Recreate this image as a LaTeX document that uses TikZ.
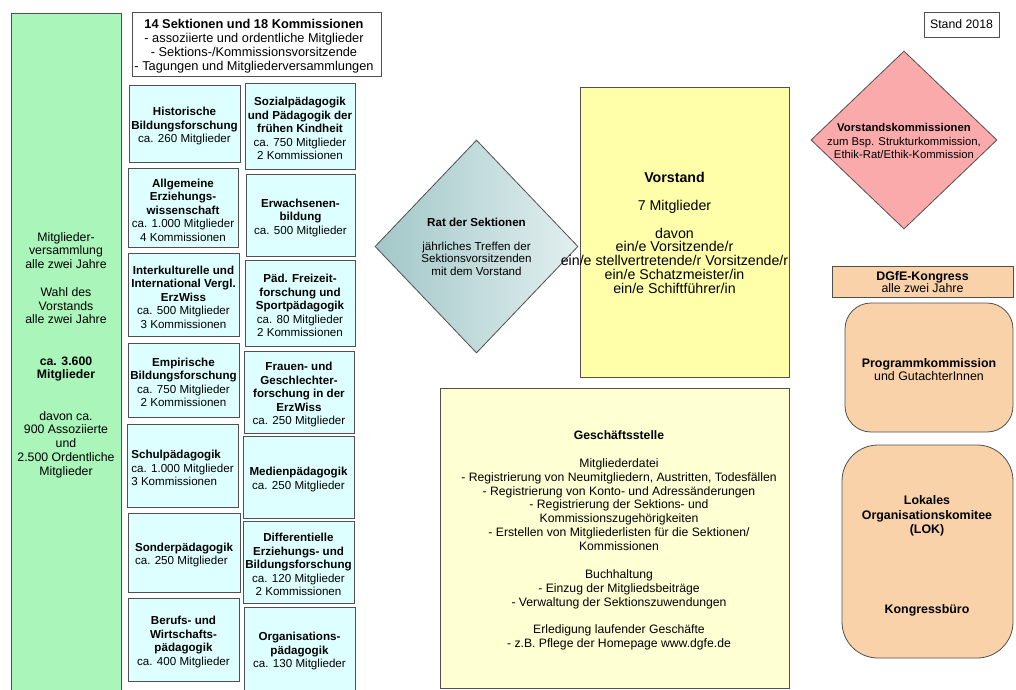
\documentclass[tikz,border=0pt]{standalone}
\usepackage{fontspec}
\setmainfont{Liberation Sans}
\usetikzlibrary{shapes.geometric}
\definecolor{grn}{HTML}{AAF5B9}
\definecolor{cyn}{HTML}{DDFFFF}
\definecolor{ylw}{HTML}{FFFFAA}
\definecolor{pyl}{HTML}{FFFFD4}
\definecolor{pnk}{HTML}{FAAAAA}
\definecolor{org}{HTML}{FAD2AA}
\definecolor{tealL}{HTML}{A2C7C8}
\definecolor{tealR}{HTML}{E2EFEF}
\definecolor{bdr}{HTML}{505050}
\newcommand\fs[2]{\fontsize{#1}{#2}\selectfont}
\newcommand\Tup{\rule{0pt}{13.5pt}}
\begin{document}
\begin{tikzpicture}[x=1pt,y=-1pt,
  box/.style={draw=bdr, line width=0.8pt, inner sep=0pt, align=center},
  sec/.style={box, fill=cyn, font=\fs{11.6}{13.5}},
  txt/.style={inner sep=0pt, align=center}]
\useasboundingbox (0,0) rectangle (1016,689);
\clip (0,0) rectangle (1016,689);
\fill[white] (0,0) rectangle (1016,689);

% Mitgliederversammlung
\node[box, fill=grn, minimum width=110pt, minimum height=684pt, font=\fs{12.3}{13.76}] (mv) at (66,355)
 {Mitglieder-\\versammlung\\alle zwei Jahre\\~\\Wahl des\\Vorstands\\alle zwei Jahre\\~\\~\\\textbf{ca. 3.600}\\\textbf{Mitglieder}\\~\\~\\davon ca.\\900 Assoziierte\\und\\2.500 Ordentliche\\Mitglieder};

% header
\node[box, fill=white, minimum width=249pt, minimum height=64pt] (hdr) at (256.5,44) {};
\node[txt, font=\fs{12.8}{13.8}] (hdrtext) at (254,46) {\textbf{14 Sektionen und 18 Kommissionen}\\- assoziierte und ordentliche Mitglieder\\- Sektions-/Kommissionsvorsitzende\\- Tagungen und Mitgliederversammlungen};

% sections, left column
\node[sec, minimum width=111pt, minimum height=77pt] (hist) at (184.5,123.5)
 {\Tup\textbf{Historische}\\\textbf{Bildungsforschung}\\ca. 260 Mitglieder};
\node[sec, minimum width=110pt, minimum height=79pt] (allg) at (183,207.5)
 {\Tup\textbf{Allgemeine}\\\textbf{Erziehungs-}\\\textbf{wissenschaft}\\ca. 1.000 Mitglieder\\4 Kommissionen};
\node[sec, minimum width=111pt, minimum height=83pt] (inter) at (183.5,294.5)
 {\Tup\textbf{Interkulturelle und}\\\textbf{International Vergl.}\\\textbf{ErzWiss}\\ca. 500 Mitglieder\\3 Kommissionen};
\node[sec, minimum width=111pt, minimum height=74pt] (emp) at (183.5,380)
 {\Tup\textbf{Empirische}\\\textbf{Bildungsforschung}\\ca. 750 Mitglieder\\2 Kommissionen};
\node[sec, align=left, minimum width=111pt, minimum height=83pt] (schul) at (182.5,465.5)
 {\Tup\textbf{Schulpädagogik}\\ca. 1.000 Mitglieder\\3 Kommissionen};
\node[sec, align=left, minimum width=112pt, minimum height=79pt] (sonder) at (184,552.5)
 {\Tup\textbf{Sonderpädagogik}\\ca. 250 Mitglieder};
\node[sec, minimum width=111pt, minimum height=83pt] (beruf) at (183.5,639.5)
 {\Tup\textbf{Berufs- und}\\\textbf{Wirtschafts-}\\\textbf{pädagogik}\\ca. 400 Mitglieder};

% sections, right column
\node[sec, minimum width=110pt, minimum height=86pt] (sozial) at (300,126)
 {\Tup\textbf{Sozialpädagogik}\\\textbf{und Pädagogik der}\\\textbf{frühen Kindheit}\\ca. 750 Mitglieder\\2 Kommissionen};
\node[sec, minimum width=109pt, minimum height=82pt] (erw) at (300.5,215)
 {\Tup\textbf{Erwachsenen-}\\\textbf{bildung}\\ca. 500 Mitglieder};
\node[sec, minimum width=110pt, minimum height=86pt] (frei) at (300,303)
 {\Tup\textbf{Päd. Freizeit-}\\\textbf{forschung und}\\\textbf{Sportpädagogik}\\ca. 80 Mitglieder\\2 Kommissionen};
\node[sec, minimum width=110pt, minimum height=82pt] (frauen) at (299,392)
 {\Tup\textbf{Frauen- und}\\\textbf{Geschlechter-}\\\textbf{forschung in der}\\\textbf{ErzWiss}\\ca. 250 Mitglieder};
\node[sec, minimum width=111pt, minimum height=82pt] (medien) at (298.5,477)
 {\Tup\textbf{Medienpädagogik}\\ca. 250 Mitglieder};
\node[sec, minimum width=111pt, minimum height=82pt] (diff) at (298.5,562)
 {\Tup\textbf{Differentielle}\\\textbf{Erziehungs- und}\\\textbf{Bildungsforschung}\\ca. 120 Mitglieder\\2 Kommissionen};
\node[sec, minimum width=111pt, minimum height=83pt] (orga) at (299.5,648.5)
 {\Tup\textbf{Organisations-}\\\textbf{pädagogik}\\ca. 130 Mitglieder};

% Rat der Sektionen
\node[diamond, draw=bdr, line width=0.8pt, left color=tealL, right color=tealR, minimum width=203pt, minimum height=213pt, inner sep=0pt] (rat) at (476.5,246.5) {};
\node[txt, font=\fs{11.6}{12.3}] (rattext) at (476.5,246.5) {\textbf{Rat der Sektionen}\\~\\jährliches Treffen der\\Sektionsvorsitzenden\\mit dem Vorstand};

% Vorstand
\node[box, fill=ylw, minimum width=209pt, minimum height=290pt] (vor) at (684.5,232) {};
\node[txt, font=\fs{14.2}{13.8}] (vortext) at (674.5,233) {\textbf{Vorstand}\\~\\7 Mitglieder\\~\\davon\\ein/e Vorsitzende/r\\ein/e stellvertretende/r Vorsitzende/r\\ein/e Schatzmeister/in\\ein/e Schiftführer/in};

% Geschaeftsstelle
\node[box, fill=pyl, minimum width=349pt, minimum height=300pt] (gs) at (614.5,538) {};
\node[txt, font=\fs{12.2}{13.87}] (gstext) at (619,540.5) {\textbf{Geschäftsstelle}\\~\\Mitgliederdatei\\- Registrierung von Neumitgliedern, Austritten, Todesfällen\\- Registrierung von Konto- und Adressänderungen\\- Registrierung der Sektions- und\\Kommissionszugehörigkeiten\\- Erstellen von Mitgliederlisten für die Sektionen/\\Kommissionen\\~\\Buchhaltung\\- Einzug der Mitgliedsbeiträge\\- Verwaltung der Sektionszuwendungen\\~\\Erledigung laufender Geschäfte\\- z.B. Pflege der Homepage www.dgfe.de};

% Stand
\node[box, fill=white, minimum width=75pt, minimum height=25pt, font=\fs{12.3}{14}] (stand) at (961.5,24.5) {Stand 2018};

% Vorstandskommissionen
\node[diamond, draw=bdr, line width=0.8pt, fill=pnk, minimum width=186pt, minimum height=178pt, inner sep=0pt] (vk) at (904,140) {};
\node[txt, font=\fs{11.3}{13.1}] (vktext) at (904,141) {\textbf{Vorstandskommissionen}\\zum Bsp. Strukturkommission,\\Ethik-Rat/Ethik-Kommission};

% Kongress
\node[box, fill=org, minimum width=181pt, minimum height=31pt] (dk) at (922.5,281.5) {};
\node[txt, font=\fs{12.4}{12}] (dktext) at (922.5,282.5) {\textbf{DGfE-Kongress}\\alle zwei Jahre};
\node[box, fill=org, rounded corners=26pt, minimum width=168pt, minimum height=129pt] (pk) at (929,367.5) {};
\node[txt, font=\fs{12.4}{13.4}] (pktext) at (929,369.5) {\textbf{Programmkommission}\\und GutachterInnen};
\node[box, fill=org, rounded corners=36pt, minimum width=171pt, minimum height=213pt] (lok) at (927.5,551.5) {};
\node[txt, font=\fs{12.4}{14.4}\bfseries] (loktext) at (927,516) {Lokales\\Organisationskomitee\\(LOK)};
\node[txt, font=\fs{12.4}{14.4}\bfseries] (kb) at (927,610) {Kongressbüro};
\end{tikzpicture}
\end{document}
